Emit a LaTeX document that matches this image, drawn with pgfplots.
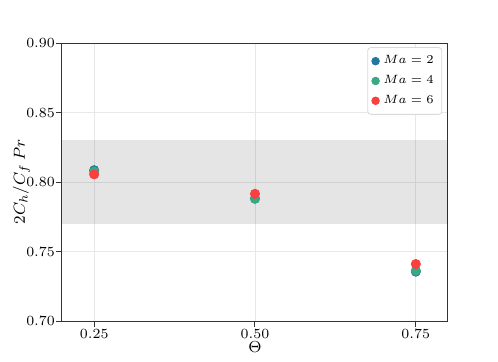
\documentclass[border=0pt]{standalone}
\usepackage{pgfplots}
\pgfplotsset{compat=1.18}
\definecolor{cma2}{HTML}{22779E}
\definecolor{cma4}{HTML}{3AA886}
\definecolor{cma6}{HTML}{F9403F}
\begin{document}
\begin{tikzpicture}
\path (0pt,0pt) rectangle (249pt,180.5pt);
\begin{axis}[
    at={(31pt,20pt)}, anchor=south west,
    scale only axis, width=193pt, height=139pt,
    xmin=0.2, xmax=0.8, ymin=0.70, ymax=0.90,
    xtick={0.25,0.5,0.75}, ytick={0.70,0.75,...,0.90},
    xticklabel style={yshift=2.5pt, /pgf/number format/.cd, fixed, fixed zerofill, precision=2},
    yticklabel style={xshift=3pt, /pgf/number format/.cd, fixed, fixed zerofill, precision=2},
    tick label style={font=\scriptsize},
    tick align=outside, xtick pos=left, ytick pos=left,
    major tick length=3pt, tick style={black!80, line width=0.5pt},
    grid=major, grid style={gray!18, line width=0.4pt},
    axis line style={black!80, line width=0.5pt},
    xlabel={$\Theta$}, ylabel={$2C_h/C_f\,Pr$},
    label style={font=\footnotesize},
    xlabel style={at={(axis description cs:0.5,-0.094)}, anchor=center},
    ylabel style={at={(axis description cs:-0.105,0.5)}, anchor=center},
    legend style={at={(0.985,0.985)}, anchor=north east, font=\fontsize{6}{7}\selectfont,
        draw=gray!30, rounded corners=1.5pt, cells={anchor=east},
        row sep=0.3pt, inner sep=2pt},
    legend cell align=right,
    legend image post style={mark size=1.9pt},
]
\addplot[fill=black, fill opacity=0.1, draw=none, forget plot]
    coordinates {(0.2,0.77) (0.8,0.77) (0.8,0.83) (0.2,0.83)} -- cycle;
\addplot[only marks, mark=*, mark size=2.3pt, color=cma2]
    coordinates {(0.25,0.8085) (0.5,0.7880) (0.75,0.7355)};
\addplot[only marks, mark=*, mark size=2.3pt, color=cma4]
    coordinates {(0.25,0.8075) (0.5,0.7880) (0.75,0.7362)};
\addplot[only marks, mark=*, mark size=2.3pt, color=cma6]
    coordinates {(0.25,0.8055) (0.5,0.7915) (0.75,0.7410)};
\legend{$Ma=2$, $Ma=4$, $Ma=6$}
\end{axis}
\end{tikzpicture}
\end{document}
